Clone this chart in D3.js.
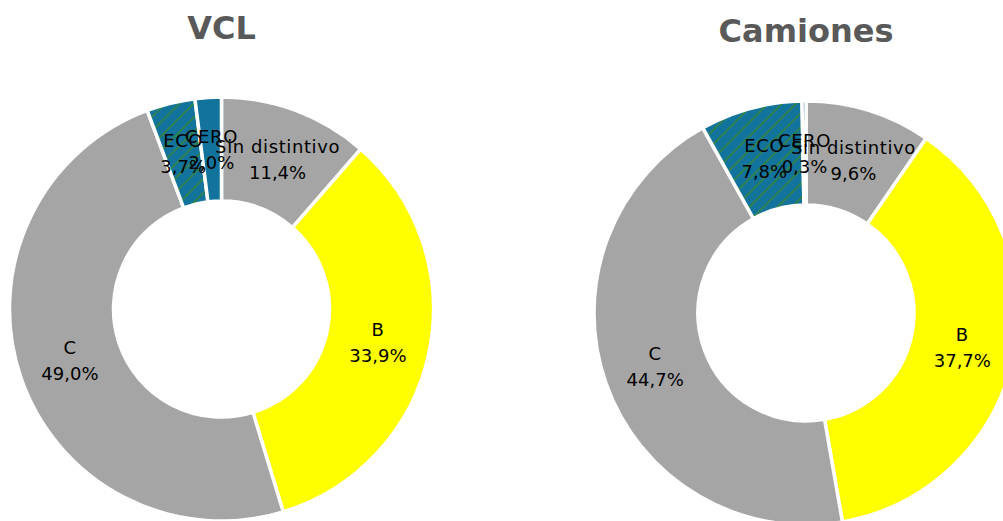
<!DOCTYPE html>
<html>
<head>
<meta charset="utf-8">
<script src="https://cdn.jsdelivr.net/npm/d3@7"></script>
<style>
  body { margin: 0; background: #ffffff; }
  svg { display: block; }
</style>
</head>
<body>
<div id="chart"></div>
<script>
// categories in clockwise order, starting at 12 o'clock
var categories = ["Sin distintivo", "B", "C", "ECO", "CERO"];
var vclValues = [11.4, 33.9, 49.0, 3.7, 2.0];
var camionesValues = [9.6, 37.7, 44.7, 7.8, 0.3];
var chartTitles = ["VCL", "Camiones"];

var fills = {
  "Sin distintivo": "#a5a5a5",
  "B": "#ffff00",
  "C": "#a5a5a5",
  "ECO": "url(#ecoHatch)",
  "CERO": "#12739c"
};

var width = 1003, height = 521;
var outerR = 212, innerR = 108;

var svg = d3.select("#chart").append("svg")
  .attr("width", width)
  .attr("height", height);

// hatch used by the ECO slice
var pat = svg.append("defs").append("pattern")
  .attr("id", "ecoHatch")
  .attr("patternUnits", "userSpaceOnUse")
  .attr("width", 10)
  .attr("height", 10)
  .attr("patternTransform", "rotate(-45)");
pat.append("rect").attr("width", 10).attr("height", 10).attr("fill", "#12739c");
pat.append("line")
  .attr("x1", 0).attr("y1", 5).attr("x2", 10).attr("y2", 5)
  .attr("stroke", "#3d8a2a").attr("stroke-width", 1.3);

var pie = d3.pie().sort(null).value(function(d) { return d.value; });
var arc = d3.arc().innerRadius(innerR).outerRadius(outerR);
var fmt = function(v) { return d3.format(".1f")(v).replace(".", ",") + "%"; };

var donuts = [
  { title: chartTitles[0], values: vclValues, cx: 221.5, cy: 309, ty: 39 },
  { title: chartTitles[1], values: camionesValues, cx: 806, cy: 313, ty: 42 }
];

donuts.forEach(function(dn) {
  var data = categories.map(function(c, i) { return { name: c, value: dn.values[i] }; });

  svg.append("text")
    .attr("x", dn.cx)
    .attr("y", dn.ty)
    .attr("text-anchor", "middle")
    .style("font-family", "'DejaVu Sans', sans-serif")
    .style("font-weight", "bold")
    .style("font-size", "32px")
    .style("fill", "#595959")
    .text(dn.title);

  var g = svg.append("g")
    .attr("transform", "translate(" + dn.cx + "," + dn.cy + ")");

  g.selectAll("path.slice")
    .data(pie(data)).enter()
    .append("path")
    .attr("class", "slice")
    .attr("d", arc)
    .attr("fill", function(d) { return fills[d.data.name]; })
    .attr("stroke", "#ffffff")
    .attr("stroke-width", 3.5)
    .attr("stroke-linejoin", "miter");

  var lbl = g.selectAll("text.lbl")
    .data(pie(data)).enter()
    .append("text")
    .attr("class", "lbl")
    .attr("transform", function(d) { return "translate(" + arc.centroid(d) + ")"; })
    .attr("text-anchor", "middle")
    .style("font-family", "'DejaVu Sans', sans-serif")
    .style("font-size", "18px")
    .style("fill", "#000000");
  lbl.append("tspan").attr("x", 0).attr("y", -6.5)
    .style("letter-spacing", "0.6px")
    .text(function(d) { return d.data.name; });
  lbl.append("tspan").attr("x", 0).attr("y", 19.5).text(function(d) { return fmt(d.data.value); });
});
</script>
</body>
</html>
